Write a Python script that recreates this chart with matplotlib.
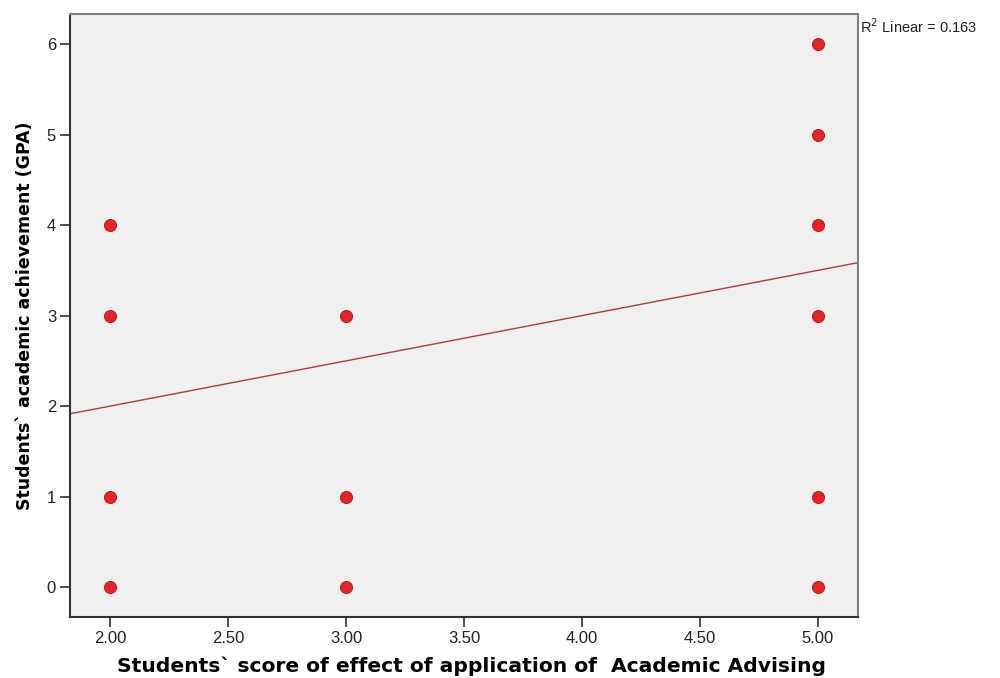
import matplotlib
matplotlib.use("Agg")
import matplotlib.pyplot as plt
import numpy as np

plt.rcParams['font.family'] = ['Liberation Sans', 'DejaVu Sans']

advising_score = [2, 2, 2, 2, 3, 3, 3, 5, 5, 5, 5, 5, 5]
gpa = [0, 1, 3, 4, 0, 1, 3, 0, 1, 3, 4, 5, 6]
fit_intercept = 1.0
fit_slope = 0.5
r2_text = "R$^2$ Linear = 0.163"
x_ticks = [2.0, 2.5, 3.0, 3.5, 4.0, 4.5, 5.0]
y_ticks = [0, 1, 2, 3, 4, 5, 6]

fig = plt.figure(figsize=(10, 6.78), dpi=100)
ax = fig.add_axes([0.070, 0.090, 0.788, 0.889])
ax.set_facecolor('#f0f0f0')

xmin, xmax = 1.83, 5.17
ax.set_xlim(xmin, xmax)
ax.set_ylim(-0.33, 6.33)

xs = np.array([xmin, xmax])
ax.plot(xs, fit_intercept + fit_slope * xs, color='#b03a3a', lw=1.0, zorder=2)
ax.scatter(advising_score, gpa, s=75, color='#e8222a', edgecolors='#b01c1c',
           linewidths=0.7, zorder=3)

ax.set_xticks(x_ticks)
ax.set_xticklabels([f"{v:.2f}" for v in x_ticks])
ax.set_yticks(y_ticks)
ax.tick_params(axis='both', direction='out', length=7, width=1.2, colors='#333333',
               labelsize=12, labelcolor='#222222', pad=3)
ax.tick_params(top=False, right=False)
for s in ['left', 'bottom']:
    ax.spines[s].set_color('#333333')
    ax.spines[s].set_linewidth(1.5)
for s in ['top', 'right']:
    ax.spines[s].set_color('#808080')
    ax.spines[s].set_linewidth(1.5)

ax.set_xlabel("Students` score of effect of application of  Academic Advising",
              fontsize=14.6, fontweight='bold', labelpad=7, family='DejaVu Sans')
ax.xaxis.set_label_coords(0.51, -0.065)
ax.set_ylabel("Students` academic achievement (GPA)", fontsize=12.5,
              fontweight='bold', labelpad=9, family='DejaVu Sans')

fig.text(0.860, 0.961, r2_text, fontsize=10.5, ha='left', va='center', color='#222222')

fig.savefig("out.png", dpi=100)
